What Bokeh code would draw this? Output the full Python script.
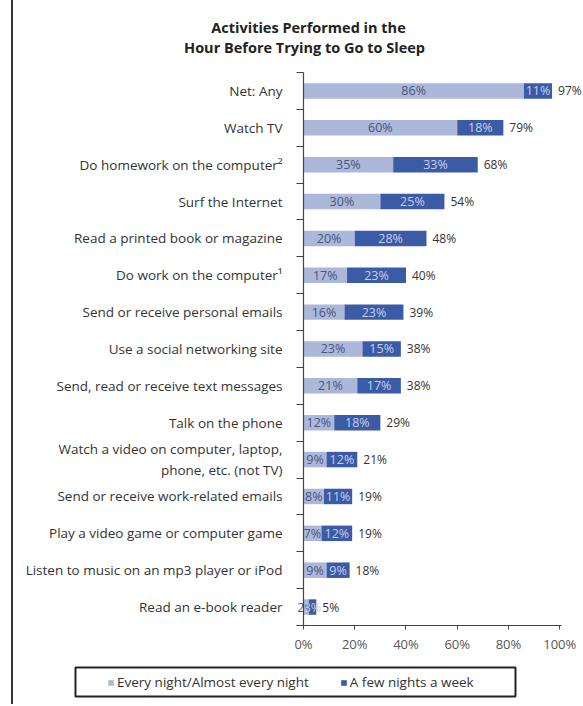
from bokeh.plotting import figure
from bokeh.layouts import row
from bokeh.models import (Range1d, FixedTicker, Legend, LegendItem, Label, Spacer,
                          BoxAnnotation, ColumnDataSource, PrintfTickFormatter)
from bokeh.embed import file_html
from bokeh.resources import INLINE
from bokeh.core.properties import value

# ---------------- data ----------------
activities = [
    "Net: Any",
    "Watch TV",
    "Do homework on the computer\u00b2",
    "Surf the Internet",
    "Read a printed book or magazine",
    "Do work on the computer\u00b9",
    "Send or receive personal emails",
    "Use a social networking site",
    "Send, read or receive text messages",
    "Talk on the phone",
    "Watch a video on computer, laptop,\nphone, etc. (not TV)",
    "Send or receive work-related emails",
    "Play a video game or computer game",
    "Listen to music on an mp3 player or iPod",
    "Read an e-book reader",
]
every_night = [86, 60, 35, 30, 20, 17, 16, 23, 21, 12, 9, 8, 7, 9, 2]
few_nights = [11, 18, 33, 25, 28, 23, 23, 15, 17, 18, 12, 11, 12, 9, 3]
totals = [97, 79, 68, 54, 48, 40, 39, 38, 38, 29, 21, 19, 19, 18, 5]
x_ticks = [0, 20, 40, 60, 80, 100]
title_lines = ["Activities Performed in the", "Hour Before Trying to Go to Sleep"]
series_names = ["Every night/Almost every night", "A few nights a week"]

LIGHT = "#abb8da"
DARK = "#3c5ba7"
FONT = "Open Sans"
TXT = "#333333"

n = len(activities)
idx = list(range(n))
bounds = [i - 0.5 for i in range(n + 1)]
stack_end = [a + b for a, b in zip(every_night, few_nights)]

src = ColumnDataSource(dict(
    y=idx,
    light=every_night,
    dark=few_nights,
    end=stack_end,
    light_mid=[a / 2 for a in every_night],
    dark_mid=[a + b / 2 for a, b in zip(every_night, few_nights)],
    light_lbl=[f"{v}%" for v in every_night],
    dark_lbl=[f"{v}%" for v in few_nights],
    total_lbl=[f"{v}%" for v in totals],
))

# whole canvas is the frame; axes are pinned inside it
X0 = -2.7
p = figure(width=569, height=704, output_backend="svg", toolbar_location=None,
           x_range=Range1d(-113.17, 108.88), y_range=Range1d(16.643, -2.453),
           min_border=0)
p.outline_line_color = None
p.xgrid.visible = False
p.ygrid.visible = False

r_light, r_dark = p.hbar_stack(["light", "dark"], y="y", height=0.42, source=src,
                               color=[LIGHT, DARK], line_color=None)

p.text(x="light_mid", y="y", text="light_lbl", source=src, text_align="center",
       text_baseline="middle", text_font=value(FONT), text_font_size="12.5px",
       text_color="#4a5480")
p.text(x="dark_mid", y="y", text="dark_lbl", source=src, text_align="center",
       text_baseline="middle", text_font=value(FONT), text_font_size="12.5px",
       text_color="#c4cfec")
p.text(x="end", y="y", text="total_lbl", source=src, text_align="left",
       text_baseline="middle", x_offset=6, text_font=value(FONT),
       text_font_size="12px", text_color=TXT)

# y axis: line at 0, ticks at row boundaries, labels at rows
ya = p.yaxis[0]
ya.fixed_location = 0
ya.bounds = (bounds[0], bounds[-1])
ya.ticker = FixedTicker(ticks=idx, minor_ticks=bounds)
ya.major_label_overrides = {i: activities[i] for i in idx}
ya.axis_line_color = "#444"
ya.axis_line_width = 1.2
ya.major_tick_line_color = None
ya.minor_tick_line_color = "#444"
ya.minor_tick_in = 0
ya.minor_tick_out = 7
ya.major_label_standoff = 14
ya.major_label_text_font = FONT
ya.major_label_text_font_size = "13.5px"
ya.major_label_text_color = TXT

# x axis pinned at the bottom row boundary
xa = p.xaxis[0]
xa.fixed_location = bounds[-1]
xa.ticker = FixedTicker(ticks=x_ticks)
xa.formatter = PrintfTickFormatter(format="%d%%")
xa.bounds = (X0, 100.5)
xa.axis_line_color = "#444"
xa.major_tick_line_color = "#444"
xa.major_tick_in = 0
xa.major_tick_out = 4
xa.minor_tick_line_color = None
xa.major_label_standoff = 6
xa.major_label_text_font = FONT
xa.major_label_text_font_size = "13px"
xa.major_label_text_color = "#555"

# title
for line, (tx, ty) in zip(title_lines, [(1.95, -1.72), (0.4, -1.178)]):
    p.add_layout(Label(x=tx, y=ty, text=line, text_align="center",
                       text_baseline="middle", text_font=FONT,
                       text_font_size="14.5px", text_font_style="bold",
                       text_color="#222"))

# legend frame and legend
p.add_layout(BoxAnnotation(left=-88.98, right=82.73, top=15.639, bottom=16.426,
                           fill_color="white", fill_alpha=1,
                           line_color="#222", line_alpha=1, line_width=2))
legend = Legend(items=[LegendItem(label=series_names[0], renderers=[r_light]),
                       LegendItem(label=series_names[1], renderers=[r_dark])],
                orientation="horizontal", location=(94, 13),
                border_line_color=None, background_fill_alpha=0,
                padding=0, spacing=31, margin=0,
                glyph_width=7, glyph_height=7, label_standoff=3,
                label_text_font=FONT, label_text_font_size="13.5px",
                label_text_color=TXT)
p.add_layout(legend, "center")

layout = row(Spacer(width=11, height=704),
             Spacer(width=2, height=704, styles={"background-color": "#333"}),
             p)

open("out.html", "w").write(file_html(layout, INLINE))
